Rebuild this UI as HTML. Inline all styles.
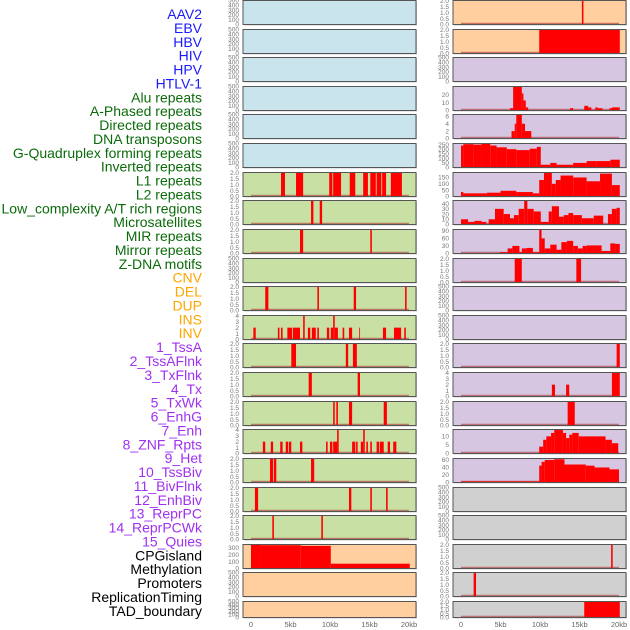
<!DOCTYPE html>
<html><head><meta charset="utf-8"><style>
html,body{margin:0;padding:0;background:#fff;width:630px;height:630px;overflow:hidden}
svg{display:block}
.lbl{font-family:"Liberation Sans",sans-serif;font-size:14px}
.tk{font-family:"Liberation Sans",sans-serif;font-size:6.5px;fill:#777}
.ax{font-family:"Liberation Sans",sans-serif;font-size:7.5px;fill:#666}
</style></head><body>
<svg id="chart" width="630" height="630" viewBox="0 0 630 630" xmlns="http://www.w3.org/2000/svg"></svg>
<script>
const labels=["AAV2","EBV","HBV","HIV","HPV","HTLV-1","Alu repeats","A-Phased repeats","Directed repeats","DNA transposons","G-Quadruplex forming repeats","Inverted repeats","L1 repeats","L2 repeats","Low_complexity A/T rich regions","Microsatellites","MIR repeats","Mirror repeats","Z-DNA motifs","CNV","DEL","DUP","INS","INV","1_TssA","2_TssAFlnk","3_TxFlnk","4_Tx","5_TxWk","6_EnhG","7_Enh","8_ZNF_Rpts","9_Het","10_TssBiv","11_BivFlnk","12_EnhBiv","13_ReprPC","14_ReprPCWk","15_Quies","CPGisland","Methylation","Promoters","ReplicationTiming","TAD_boundary"];
const labelColors=["#1a1aff","#1a1aff","#1a1aff","#1a1aff","#1a1aff","#1a1aff","#0b6b0b","#0b6b0b","#0b6b0b","#0b6b0b","#0b6b0b","#0b6b0b","#0b6b0b","#0b6b0b","#0b6b0b","#0b6b0b","#0b6b0b","#0b6b0b","#0b6b0b","#ffa500","#ffa500","#ffa500","#ffa500","#ffa500","#a030f0","#a030f0","#a030f0","#a030f0","#a030f0","#a030f0","#a030f0","#a030f0","#a030f0","#a030f0","#a030f0","#a030f0","#a030f0","#a030f0","#a030f0","#000","#000","#000","#000","#000"];
const xTickValues=[0,5,10,15,20];
const xTickLabels=["0","5kb","10kb","15kb","20kb"];
// y-scale kind per panel
const leftScale=["500","500","500","500","500","500","2","2","2","500","2","4","2","2","2","4","2","2","2","cpg","500","500"];
const rightScale=["2","2","500","r3","r4","r5","r6","r7","r8","2","500","500","2","4","2","r15","r16","500","500","2","2","2"];
const leftBg=["#c9e4ec","#c9e4ec","#c9e4ec","#c9e4ec","#c9e4ec","#c9e4ec","#c9e0a5","#c9e0a5","#c9e0a5","#c9e0a5","#c9e0a5","#c9e0a5","#c9e0a5","#c9e0a5","#c9e0a5","#c9e0a5","#c9e0a5","#c9e0a5","#c9e0a5","#ffcfa0","#ffcfa0","#ffcfa0"];
const rightBg=["#ffcfa0","#ffcfa0","#d6c6e2","#d6c6e2","#d6c6e2","#d6c6e2","#d6c6e2","#d6c6e2","#d6c6e2","#d6c6e2","#d6c6e2","#d6c6e2","#d6c6e2","#d6c6e2","#d6c6e2","#d6c6e2","#d6c6e2","#d0d0d0","#d0d0d0","#d0d0d0","#d0d0d0","#d0d0d0"];
// segments [startKb,endKb,value]
const leftSegments=[[],[],[],[],[],[],
[[3.8,4.3,2],[5.7,6.6,2],[9.9,10.3,2],[10.4,11.4,2],[12.5,13.2,2],[14.2,14.8,2],[15.1,15.8,2],[15.9,16.5,2],[16.6,17.1,2],[17.7,19.1,2]],
[[7.6,7.9,2],[8.7,9.0,2]],
[[6.2,6.6,2],[15.1,15.3,2]],
[],
[[1.8,2.2,2],[8.4,8.6,2],[13.0,13.3,2],[19.5,19.7,2]],
[[0.3,0.6,2],[3.4,3.6,2],[3.8,4.0,2],[4.6,5.2,2],[5.3,6.2,2],[6.6,6.8,4],[7.2,7.5,2],[7.7,8.2,2],[8.4,8.6,2],[9.6,9.9,2],[10.1,10.4,2],[10.4,10.6,4],[10.6,11.0,2],[11.6,11.8,2],[12.4,12.8,2],[13.7,13.8,2],[16.7,17.1,2],[18.1,19.0,2],[19.4,19.6,2]],
[[5.1,5.7,2],[12.0,12.3,2],[12.9,13.4,2]],
[[7.3,7.7,2],[13.5,13.8,2]],
[[10.4,10.6,2],[10.8,11.0,2],[12.4,12.8,2],[16.8,17.2,2]],
[[1.5,1.8,2],[2.5,2.8,2],[3.7,4.0,2],[4.4,4.7,2],[4.8,5.1,2],[6.2,6.5,2],[9.5,9.7,2],[10.0,10.3,2],[10.4,10.9,2],[10.9,11.1,5],[12.8,13.2,2],[13.3,13.5,2],[13.9,14.2,2],[14.2,14.4,5],[14.6,14.8,2],[15.1,15.3,2],[15.9,16.2,2],[16.3,16.8,2],[17.3,17.6,2],[18.0,18.4,2]],
[[2.4,2.8,2],[2.9,3.2,2],[7.6,8.0,2]],
[[0.5,0.9,2],[12.4,12.7,2],[15.1,15.3,2],[17.1,17.3,2]],
[[2.7,2.9,2],[8.9,9.1,2]],
[[0,1.2,350],[1.2,6.3,340],[6.3,10.1,330],[10.1,20.1,70]],
[],[]];
const rightSegments=[
[[15.3,15.5,2]],
[[9.9,20.1,2]],
[],
[[6.2,6.6,3],[6.6,7.7,31],[7.7,7.9,22],[7.9,8.2,13],[8.2,8.5,4],[13.8,14.2,3],[15.6,16.1,6],[16.1,16.5,4],[17.0,17.3,4],[17.3,17.9,3],[18.8,19.1,3],[19.1,20.1,4]],
[[6.4,6.8,2],[6.8,7.0,4],[7.0,7.7,6.5],[7.7,8.1,4],[8.1,8.9,2]],
[[0,0.3,240],[0.3,1.6,255],[1.6,2.6,250],[2.6,3.7,260],[3.7,4.5,240],[4.5,5.8,220],[5.8,7.0,200],[7.0,8.7,190],[8.7,9.6,205],[9.6,10.1,225],[10.1,11.3,30],[11.3,12.1,50],[12.1,14.2,30],[14.2,15.9,50],[15.9,17.2,70],[17.2,18.9,70],[18.9,20.1,85]],
[[0,0.3,35],[0.3,3.3,25],[3.3,5.0,30],[5.0,7.0,45],[7.0,9.1,35],[9.1,9.9,25],[9.9,10.5,130],[10.5,11.5,185],[11.5,12.0,100],[12.0,12.6,130],[12.6,14.2,165],[14.2,15.9,150],[15.9,17.6,120],[17.6,19.1,180],[19.1,20.1,90]],
[[0,0.9,10],[0.9,1.7,5],[1.7,2.6,7],[2.6,3.2,5],[3.5,4.3,10],[4.3,5.4,30],[5.4,6.2,20],[6.2,6.7,12],[6.7,7.3,18],[7.3,8.0,30],[8.0,8.4,45],[8.4,9.2,30],[9.2,10.1,25],[10.1,11.1,5],[11.1,11.5,25],[11.5,12.4,35],[12.4,13.0,15],[13.0,13.6,18],[13.6,14.2,22],[14.2,15.3,18],[15.3,16.8,12],[16.8,18.0,17],[18.6,19.1,20],[19.1,19.7,30],[19.7,20.1,32]],
[[4.9,5.9,5],[5.9,6.5,20],[6.5,7.4,30],[7.4,7.7,5],[7.7,8.3,20],[8.3,9.1,22],[9.1,9.9,5],[9.9,10.2,95],[10.2,10.6,60],[10.6,11.3,20],[11.3,12.1,35],[12.1,12.7,15],[12.7,13.4,45],[13.4,14.2,50],[14.2,14.8,30],[14.8,15.4,20],[15.4,15.9,30],[15.9,17.8,32],[17.8,18.9,10],[18.9,19.5,40],[19.5,20.1,38]],
[[6.8,7.7,2],[14.6,15.2,2]],
[],[],
[[19.7,20.1,2]],
[[11.5,11.9,2],[13.3,13.7,2],[19.1,20.1,4]],
[[13.5,14.4,2]],
[[9.9,10.4,4],[10.4,10.8,8],[10.8,11.4,10],[11.4,11.8,12],[11.8,12.9,15],[12.9,13.3,12],[13.3,13.7,9],[13.7,14.1,11],[14.1,14.9,12],[14.9,18.3,10],[18.3,19.1,8],[19.1,19.9,6]],
[[0,9.9,3],[9.9,10.2,45],[10.2,10.6,55],[10.6,11.8,60],[11.8,13.1,62],[13.1,15.8,48],[15.8,16.9,45],[16.9,18.8,40],[18.8,20.0,35]],
[],[],
[[19.0,19.2,2]],
[[1.6,1.9,2]],
[[15.6,20.1,2]]];
const scaleDefs={
 "500":{max:500,ticks:[0,100,200,300,400,500],fmt:v=>String(v)},
 "2":{max:2.03,ticks:[0,0.5,1,1.5,2],fmt:v=>v.toFixed(1)},
 "4":{max:4.05,ticks:[0,1,2,3,4],fmt:v=>String(v)},
 "cpg":{max:350,ticks:[0,100,200,300],fmt:v=>String(v)},
 "r3":{max:31,ticks:[0,10,20],fmt:v=>String(v)},
 "r4":{max:6.5,ticks:[0,2,4,6],fmt:v=>String(v)},
 "r5":{max:262,ticks:[0,50,100,150,200,250],fmt:v=>String(v)},
 "r6":{max:189,ticks:[0,50,100,150],fmt:v=>String(v)},
 "r7":{max:46,ticks:[0,10,20,30,40],fmt:v=>String(v)},
 "r8":{max:95,ticks:[0,30,60,90],fmt:v=>String(v)},
 "r15":{max:14,ticks:[0,5,10],fmt:v=>String(v)},
 "r16":{max:64,ticks:[0,20,40,60],fmt:v=>String(v)}
};
const NS="http://www.w3.org/2000/svg";
const svg=document.getElementById('chart');
function mk(tag,attrs,parent){const e=document.createElementNS(NS,tag);for(const k in attrs)e.setAttribute(k,attrs[k]);(parent||svg).appendChild(e);return e;}
// labels
labels.forEach((t,i)=>{
  const e=mk('text',{x:202,y:14+i*13.88+5,'text-anchor':'end',class:'lbl',fill:labelColors[i]});
  
  
  e.textContent=t;
});
const cols=[{x0:243,w:173,zero:251,scale:leftScale,bg:leftBg,seg:leftSegments,name:'left'},
            {x0:453,w:173,zero:461,scale:rightScale,bg:rightBg,seg:rightSegments,name:'right'}];
const pxPerKb=7.9;
cols.forEach((c,ci)=>{
  const xs=kb=>c.zero+kb*pxPerKb;
  for(let r=0;r<22;r++){
    const top=Math.round(28.62*r)+0.5;
    const h=r===21?16:24;
    const bottom=top+h;
    const sd=scaleDefs[c.scale[r]];
    const ys=v=>bottom-v/sd.max*h;
    const g=mk('g',{});
    
    
    mk('rect',{x:c.x0+1,y:top+1,width:c.w,height:h,fill:'#999',opacity:0.5},g);
    mk('rect',{x:c.x0,y:top,width:c.w,height:h,fill:c.bg[r]},g);
    const cid='clip'+ci+'_'+r;
    const cp=mk('clipPath',{id:cid},g);
    mk('rect',{x:c.x0,y:top,width:c.w,height:h},cp);
    const segs=c.seg[r];
    if(c.scale[r]!=="500"){
      mk('line',{x1:xs(0),x2:xs(20),y1:bottom-1,y2:bottom-1,stroke:'rgba(170,40,40,0.55)','stroke-width':1.5},g);
    }
    segs.forEach(s=>{
      const yt=ys(s[2]);
      const b=mk('rect',{x:xs(s[0]),y:yt,width:Math.max(xs(s[1])-xs(s[0]),0.8),height:bottom-yt,fill:'#ff0000','clip-path':'url(#'+cid+')'},g);
      
      
    });
    mk('rect',{x:c.x0,y:top,width:c.w,height:h,fill:'none',stroke:'#555','stroke-width':1},g);
    sd.ticks.forEach(v=>{
      const t=mk('text',{x:c.x0-4,y:ys(v)+2.2,'text-anchor':'end',class:'tk'},g);
      
      
      t.textContent=sd.fmt(v);
    });
  }
  xTickValues.forEach((v,i)=>{
    const t=mk('text',{x:xs(v),y:627,'text-anchor':'middle',class:'ax'});
    
    
    t.textContent=xTickLabels[i];
  });
});
</script>
</body></html>
